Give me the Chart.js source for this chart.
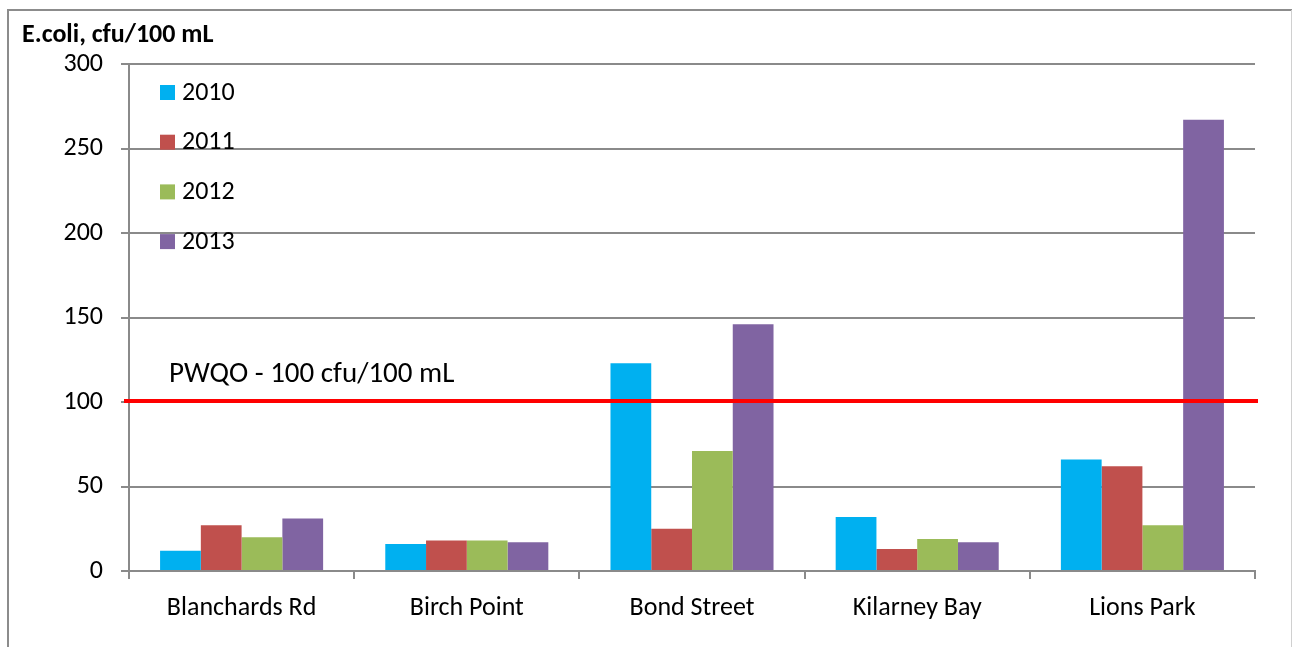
<!DOCTYPE html>
<html>
<head>
<meta charset="utf-8">
<script src="https://cdn.jsdelivr.net/npm/chart.js@4.4.1/dist/chart.umd.min.js"></script>
<style>
  html, body { margin: 0; padding: 0; background: #ffffff; }
  #wrap { width: 1293px; height: 647px; position: relative; }
</style>
</head>
<body>
<div id="wrap"><canvas id="chart" width="1293" height="647"></canvas></div>
<script>
// Beach sampling sites and yearly geometric-mean E. coli counts
const sites = ['Blanchards Rd', 'Birch Point', 'Bond Street', 'Kilarney Bay', 'Lions Park'];
const years = ['2010', '2011', '2012', '2013'];
const values2010 = [12, 16, 123, 32, 66];
const values2011 = [27, 18, 25, 13, 62];
const values2012 = [20, 18, 71, 19, 27];
const values2013 = [31, 17, 146, 17, 267];
const yearColors = ['#00B0F0', '#C0504D', '#9BBB59', '#8064A2'];
const yTicks = [0, 50, 100, 150, 200, 250, 300];
const pwqoLimit = 100;
const pwqoLabel = 'PWQO - 100 cfu/100 mL';
const axisTitle = 'E.coli, cfu/100 mL';

const FONT = 'Carlito, Lato, "Open Sans", sans-serif';
const GRID = '#8a8a8a';

const seriesValues = [values2010, values2011, values2012, values2013];

// Outer frame, axis title, limit line with its caption, and the in-plot legend
const decorations = {
  id: 'decorations',
  beforeDraw(chart) {
    const ctx = chart.ctx;
    ctx.save();
    ctx.fillStyle = '#ffffff';
    ctx.fillRect(0, 0, chart.width, chart.height);
    ctx.strokeStyle = '#8c8c8c';
    ctx.lineWidth = 2;
    ctx.beginPath();
    ctx.moveTo(8, 700);
    ctx.lineTo(8, 10);
    ctx.lineTo(1292, 10);
    ctx.stroke();
    ctx.strokeStyle = '#d0d0d0';
    ctx.lineWidth = 1;
    ctx.beginPath();
    ctx.moveTo(1291.5, 10);
    ctx.lineTo(1291.5, 700);
    ctx.stroke();
    ctx.restore();
  },
  afterDatasetsDraw(chart) {
    const ctx = chart.ctx;
    const area = chart.chartArea;
    const y = chart.scales.y.getPixelForValue(pwqoLimit);
    ctx.save();
    // limit line
    ctx.strokeStyle = '#FF0000';
    ctx.lineWidth = 4;
    ctx.beginPath();
    ctx.moveTo(area.left - 5, y - 1);
    ctx.lineTo(area.right + 3, y - 1);
    ctx.stroke();
    // caption
    ctx.fillStyle = '#000000';
    ctx.font = '29px ' + FONT;
    ctx.textAlign = 'left';
    ctx.textBaseline = 'middle';
    ctx.fillText(pwqoLabel, area.left + 40, y - 27);
    // axis title
    ctx.font = 'bold 26px ' + FONT;
    ctx.fillText(axisTitle, 22, 35);
    // legend
    ctx.font = '26px ' + FONT;
    chart.data.datasets.forEach((ds, i) => {
      const cy = area.top + 28 + i * 49.7;
      ctx.fillStyle = ds.backgroundColor;
      ctx.fillRect(area.left + 31, cy - 7, 15, 15);
      ctx.fillStyle = '#000000';
      ctx.fillText(ds.label, area.left + 53, cy + 1);
    });
    ctx.restore();
  }
};

new Chart(document.getElementById('chart'), {
  type: 'bar',
  data: {
    labels: sites,
    datasets: years.map((yr, i) => ({
      label: yr,
      data: seriesValues[i],
      backgroundColor: yearColors[i],
      borderWidth: 0,
      barPercentage: 1.0,
      categoryPercentage: 0.724
    }))
  },
  options: {
    responsive: false,
    animation: false,
    devicePixelRatio: 1,
    layout: { padding: { left: 0, right: 38, top: 64, bottom: 0 } },
    plugins: {
      legend: { display: false },
      tooltip: { enabled: false },
      title: { display: false }
    },
    scales: {
      x: {
        offset: true,
        grid: {
          offset: true,
          drawOnChartArea: false,
          drawTicks: true,
          tickLength: 8,
          color: GRID,
          lineWidth: 2
        },
        border: { display: true, color: GRID, width: 2 },
        ticks: {
          color: '#000000',
          font: { family: FONT, size: 26 },
          padding: 14,
          maxRotation: 0
        },
        afterFit(scale) { scale.height = 76; }
      },
      y: {
        min: 0,
        max: 300,
        afterBuildTicks(scale) { scale.ticks = yTicks.map(v => ({ value: v })); },
        grid: {
          color: GRID,
          lineWidth: 2,
          drawTicks: true,
          tickLength: 8
        },
        border: { display: true, color: GRID, width: 2 },
        ticks: {
          color: '#000000',
          font: { family: FONT, size: 26 },
          padding: 18
        },
        afterFit(scale) { scale.width = 129; }
      }
    }
  },
  plugins: [decorations]
});
</script>
</body>
</html>
